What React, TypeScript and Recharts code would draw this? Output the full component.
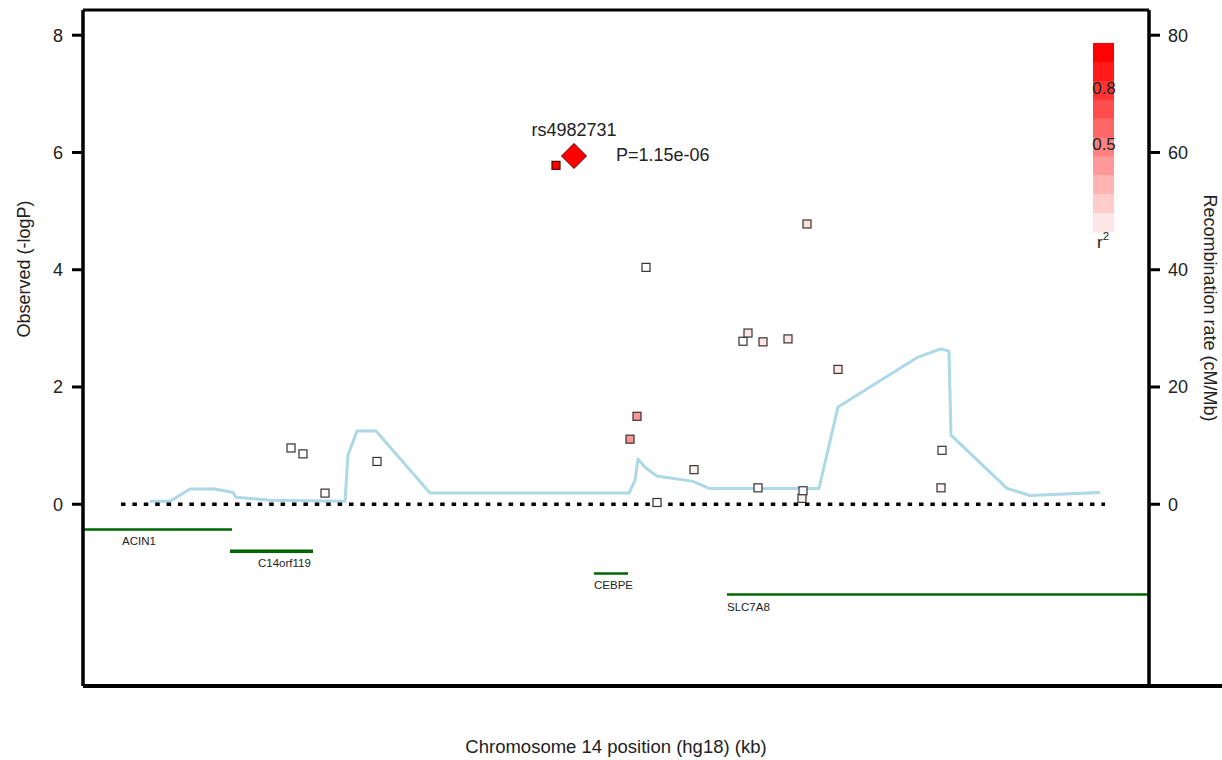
import { ComposedChart, Line, Scatter, XAxis, YAxis, ReferenceLine } from 'recharts';

const FONT = '"Liberation Sans", Arial, Helvetica, sans-serif';
const INK = '#222';

// region position (kb offset from left edge of plot window)
const xDomain = [0, 1066];

// recombination rate (cM/Mb), right axis
const recombPos = [67, 87, 107, 132, 150, 153, 187, 262, 265, 274, 293, 347, 546, 552, 555, 562, 574, 610, 626, 736, 755, 835, 858, 866, 868, 924, 947, 1017];
const recombRate = [0.5, 0.5, 2.6, 2.6, 2.0, 1.2, 0.7, 0.5, 8.4, 12.5, 12.5, 1.9, 1.9, 4.1, 7.7, 6.3, 4.8, 3.9, 2.7, 2.7, 16.6, 25.1, 26.5, 26.1, 11.8, 2.7, 1.5, 2.0];

// SNPs: position, -log10(P), r2 with the lead SNP
const snpPos = [208, 220, 242, 294, 473, 547, 554, 563, 574, 611, 660, 665, 675, 680, 705, 719, 720, 724, 755, 858, 859];
const snpLogP = [0.96, 0.86, 0.19, 0.73, 5.78, 1.11, 1.5, 4.04, 0.03, 0.59, 2.78, 2.92, 0.28, 2.77, 2.82, 0.1, 0.23, 4.78, 2.3, 0.28, 0.92];
const snpR2 = [0, 0, 0.02, 0, 1.0, 0.42, 0.42, 0, 0.02, 0.05, 0, 0.1, 0.03, 0.1, 0.1, 0.05, 0, 0.12, 0.1, 0.05, 0];

// lead SNP
const leadPos = 491;
const leadLogP = 5.94;
const leadName = 'rs4982731';
const leadP = 'P=1.15e-06';

// genes
const geneNames = ['ACIN1', 'C14orf119', 'CEBPE', 'SLC7A8'];
const geneStart = [0, 147, 511, 644];
const geneEnd = [149, 230, 545, 1066];
const geneRow = [-0.43, -0.8, -1.18, -1.54];
const geneLabelPos = [39, 175, 511, 644];

// dotted significance baseline
const baselinePos = [38, 1022];

const leftTicks = [0, 2, 4, 6, 8];
const rightTicks = [0, 20, 40, 60, 80];
const leftDomain = [-3.1, 8.43];
const rightDomain = [-31, 84.3];

// legend
const legendR2 = [1.0, 0.9, 0.8, 0.7, 0.6, 0.5, 0.4, 0.3, 0.2, 0.1];
const legendLabels = ['0.8', '0.5'];

const recombData = recombPos.map((pos, i) => ({ pos, rate: recombRate[i] }));
const snpData = snpPos.map((pos, i) => ({ pos, logp: snpLogP[i], r2: snpR2[i] }));
const leadData = [{ pos: leadPos, logp: leadLogP }];
const baselineData = baselinePos.map((pos) => ({ pos, v: 0 }));
const geneLines = geneNames.map((name, i) => ({
  name,
  data: [
    { pos: geneStart[i], row: geneRow[i] },
    { pos: geneEnd[i], row: geneRow[i] },
  ],
}));
const geneLabelData = geneNames.map((name, i) => ({ name, pos: geneLabelPos[i], row: geneRow[i] }));

const r2Color = (r2: number) => {
  const c = Math.round(255 * (1 - r2));
  return `rgb(255,${c},${c})`;
};

const SnpSquare = (props: any) => {
  const { cx, cy, payload } = props;
  if (cx == null || cy == null) return null;
  const stroke = payload.r2 > 0.8 ? '#5c0000' : '#333';
  return (
    <rect x={cx - 4} y={cy - 4} width={8} height={8} fill={r2Color(payload.r2)} stroke={stroke} strokeWidth={1.2} />
  );
};

const LeadDiamond = (props: any) => {
  const { cx, cy } = props;
  if (cx == null || cy == null) return null;
  const h = 12.5;
  const pts = `${cx},${cy - h} ${cx + h},${cy} ${cx},${cy + h} ${cx - h},${cy}`;
  return (
    <g>
      <polygon points={pts} fill="#ff0000" stroke="#5c0000" strokeWidth={1} />
      <text x={cx} y={cy - 20} textAnchor="middle" fontSize={18} fontFamily={FONT} fill={INK}>
        {leadName}
      </text>
      <text x={cx + 42} y={cy + 5.5} fontSize={18} fontFamily={FONT} fill={INK}>
        {leadP}
      </text>
    </g>
  );
};

const GeneLabel = (props: any) => {
  const { cx, cy, payload } = props;
  if (cx == null || cy == null) return null;
  return (
    <text x={cx} y={cy + 16} fontSize={11.5} fontFamily={FONT} fill={INK}>
      {payload.name}
    </text>
  );
};

const tickStyle = { fill: INK, fontSize: 18, fontFamily: FONT };

export default function App() {
  return (
    <div style={{ position: 'absolute', left: 0, top: 0, width: 1222, height: 760, background: '#fff' }}>
      <ComposedChart width={1222} height={760} margin={{ top: 10, right: 0, bottom: 0, left: 0 }}>
        <XAxis
          type="number"
          dataKey="pos"
          domain={xDomain}
          allowDataOverflow
          tick={false}
          tickLine={false}
          axisLine={false}
          height={74}
          label={() => (
            <text x={616} y={753} textAnchor="middle" fontSize={18.5} fontFamily={FONT} fill={INK}>
              Chromosome 14 position (hg18) (kb)
            </text>
          )}
        />
        <YAxis
          yAxisId="left"
          type="number"
          domain={leftDomain}
          allowDataOverflow
          ticks={leftTicks}
          width={83}
          axisLine={{ stroke: '#000', strokeWidth: 3.5 }}
          tickLine={{ stroke: '#000', strokeWidth: 3 }}
          tickSize={11}
          tickMargin={9}
          tick={tickStyle}
          label={() => (
            <text
              x={30}
              y={269}
              transform="rotate(-90, 30, 269)"
              textAnchor="middle"
              fontSize={18}
              fontFamily={FONT}
              fill={INK}
            >
              Observed (-logP)
            </text>
          )}
        />
        <YAxis
          yAxisId="right"
          orientation="right"
          type="number"
          domain={rightDomain}
          allowDataOverflow
          ticks={rightTicks}
          width={73}
          axisLine={{ stroke: '#000', strokeWidth: 3.5 }}
          tickLine={{ stroke: '#000', strokeWidth: 3 }}
          tickSize={11}
          tickMargin={8}
          tick={tickStyle}
          label={() => (
            <text
              x={1204}
              y={308}
              transform="rotate(90, 1204, 308)"
              textAnchor="middle"
              fontSize={18}
              fontFamily={FONT}
              fill={INK}
            >
              Recombination rate (cM/Mb)
            </text>
          )}
        />

        <ReferenceLine yAxisId="left" y={leftDomain[1]} stroke="#000" strokeWidth={3} ifOverflow="visible" />
        <ReferenceLine
          yAxisId="left"
          segment={[
            { x: xDomain[0], y: leftDomain[0] },
            { x: 1150, y: leftDomain[0] },
          ]}
          stroke="#000"
          strokeWidth={4}
          ifOverflow="visible"
        />

        <Line
          yAxisId="right"
          data={recombData}
          dataKey="rate"
          type="linear"
          stroke="#add8e6"
          strokeWidth={3}
          dot={false}
          activeDot={false}
          strokeLinejoin="round"
          isAnimationActive={false}
        />
        <Line
          yAxisId="left"
          data={baselineData}
          dataKey="v"
          type="linear"
          stroke="#000"
          strokeWidth={3.5}
          strokeDasharray="4.5 6.9"
          dot={false}
          activeDot={false}
          isAnimationActive={false}
        />
        {geneLines.map((g) => (
          <Line
            key={g.name}
            yAxisId="left"
            data={g.data}
            dataKey="row"
            type="linear"
            stroke="#006400"
            strokeWidth={g.name === 'C14orf119' ? 3.5 : 2.6}
            dot={false}
            activeDot={false}
            isAnimationActive={false}
          />
        ))}
        <Scatter yAxisId="left" data={geneLabelData} dataKey="row" shape={GeneLabel} isAnimationActive={false} />
        <Scatter yAxisId="left" data={snpData} dataKey="logp" shape={SnpSquare} isAnimationActive={false} />
        <Scatter yAxisId="left" data={leadData} dataKey="logp" shape={LeadDiamond} isAnimationActive={false} />
      </ComposedChart>

      <svg
        width={1222}
        height={760}
        style={{ position: 'absolute', left: 0, top: 0, pointerEvents: 'none' }}
      >
        {legendR2.map((r2, i) => (
          <rect key={r2} x={1093} y={43 + i * 18.9} width={21} height={19.4} fill={r2Color(r2)} />
        ))}
        <text x={1104} y={94} textAnchor="middle" fontSize={17} fontFamily={FONT} fill={INK}>
          {legendLabels[0]}
        </text>
        <text x={1104} y={150} textAnchor="middle" fontSize={17} fontFamily={FONT} fill={INK}>
          {legendLabels[1]}
        </text>
        <text x={1097} y={248} fontSize={17} fontFamily={FONT} fill={INK}>
          r<tspan dy={-8} fontSize={11.5}>2</tspan>
        </text>
      </svg>
    </div>
  );
}
